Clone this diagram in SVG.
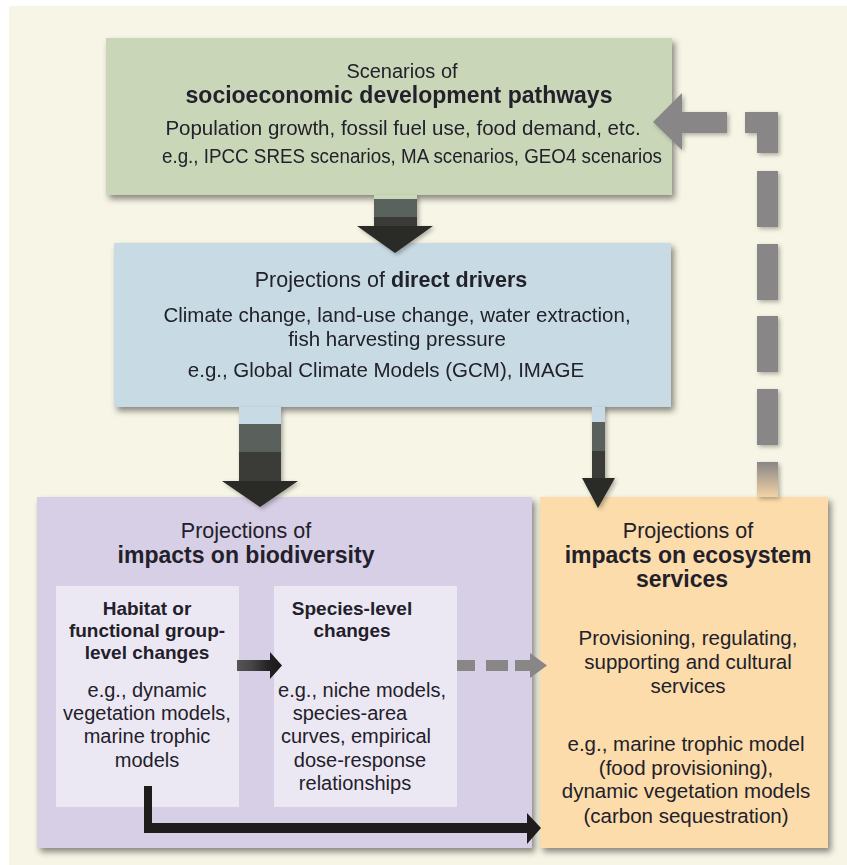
<svg xmlns="http://www.w3.org/2000/svg" width="847" height="865" viewBox="0 0 847 865">
<defs>
<style>
text{font-family:"Liberation Sans",Arial,sans-serif;fill:#22202a;text-anchor:middle}
.h{font-size:21.5px}
.b{font-weight:bold}
.tb{font-size:23px;font-weight:bold}
.t{font-size:20.5px}
.s{font-size:20px}
.box{filter:url(#sh)}
.dash{fill:#888686;filter:url(#sh2)}
</style>
<filter id="sh" x="-10%" y="-10%" width="120%" height="125%">
<feDropShadow dx="3" dy="4" stdDeviation="3" flood-color="#000" flood-opacity="0.45"/>
</filter>
<filter id="sh2" x="-30%" y="-30%" width="160%" height="160%">
<feDropShadow dx="2" dy="2" stdDeviation="2" flood-color="#000" flood-opacity="0.3"/>
</filter>
<linearGradient id="g1" x1="0" y1="195" x2="0" y2="253" gradientUnits="userSpaceOnUse">
<stop offset="0" stop-color="#c9d6b8"/><stop offset="0.07" stop-color="#c9d6b8"/>
<stop offset="0.07" stop-color="#5a625d"/><stop offset="0.38" stop-color="#5a625d"/>
<stop offset="0.38" stop-color="#3a3a38"/><stop offset="0.53" stop-color="#3a3a38"/>
<stop offset="0.53" stop-color="#2c2b28"/><stop offset="1" stop-color="#2c2b28"/>
</linearGradient>
<linearGradient id="g2" x1="0" y1="407" x2="0" y2="507" gradientUnits="userSpaceOnUse">
<stop offset="0" stop-color="#c8dbe4"/><stop offset="0.17" stop-color="#c8dbe4"/>
<stop offset="0.17" stop-color="#5a605c"/><stop offset="0.45" stop-color="#5a605c"/>
<stop offset="0.45" stop-color="#3a3a38"/><stop offset="0.74" stop-color="#3a3a38"/>
<stop offset="0.74" stop-color="#2a2926"/><stop offset="1" stop-color="#2a2926"/>
</linearGradient>
<linearGradient id="g3" x1="0" y1="407" x2="0" y2="508" gradientUnits="userSpaceOnUse">
<stop offset="0" stop-color="#c8dbe4"/><stop offset="0.15" stop-color="#c8dbe4"/>
<stop offset="0.15" stop-color="#5a605c"/><stop offset="0.44" stop-color="#5a605c"/>
<stop offset="0.44" stop-color="#3b3b39"/><stop offset="0.70" stop-color="#3b3b39"/>
<stop offset="0.70" stop-color="#2a2926"/><stop offset="1" stop-color="#2a2926"/>
</linearGradient>
<linearGradient id="g4" x1="237" y1="0" x2="282" y2="0" gradientUnits="userSpaceOnUse">
<stop offset="0" stop-color="#555"/><stop offset="0.35" stop-color="#444"/><stop offset="0.7" stop-color="#222"/><stop offset="1" stop-color="#1a1a1a"/>
</linearGradient>
<linearGradient id="g5" x1="0" y1="462" x2="0" y2="497" gradientUnits="userSpaceOnUse">
<stop offset="0" stop-color="#888686"/><stop offset="1" stop-color="#f2d3a6"/>
</linearGradient>
</defs>
<rect x="9" y="6" width="838" height="859" fill="#f7f5e5"/>

<g id="scenarios" class="box">
<rect x="106" y="38" width="566" height="157" fill="#c9d6b8"/>
<text class="h" x="402" y="78" style="font-size:20px">Scenarios of</text>
<text class="tb" x="399" y="103">socioeconomic development pathways</text>
<text class="t" x="403" y="135">Population growth, fossil fuel use, food demand, etc.</text>
<text class="t" x="412" y="163" textLength="500" lengthAdjust="spacingAndGlyphs">e.g., IPCC SRES scenarios, MA scenarios, GEO4 scenarios</text>
</g>

<g id="drivers" class="box">
<rect x="114" y="243" width="557" height="164" fill="#c8dbe4"/>
<text class="h" x="391" y="287">Projections of <tspan class="b">direct drivers</tspan></text>
<text class="t" x="397" y="322">Climate change, land-use change, water extraction,</text>
<text class="t" x="397" y="346">fish harvesting pressure</text>
<text class="t" x="386" y="377">e.g., Global Climate Models (GCM), IMAGE</text>
</g>

<g id="biodiversity">
<rect class="box" x="37" y="497" width="495" height="351" fill="#d6cfe5"/>
<text class="h" x="246" y="538">Projections of</text>
<text class="tb" x="246" y="563">impacts on biodiversity</text>
</g>

<g id="habitat">
<rect x="56" y="586" width="183" height="221" fill="#ece8f3"/>
<text class="s b" x="147" y="615" style="font-size:19px">Habitat or</text>
<text class="s b" x="147" y="637" style="font-size:19px">functional group-</text>
<text class="s b" x="147" y="659" style="font-size:19px">level changes</text>
<text class="s" x="147" y="697">e.g., dynamic</text>
<text class="s" x="147" y="720">vegetation models,</text>
<text class="s" x="147" y="743">marine trophic</text>
<text class="s" x="147" y="767">models</text>
</g>

<g id="species">
<rect x="274" y="586" width="183" height="221" fill="#ece8f3"/>
<text class="s b" x="352" y="615" style="font-size:19px">Species-level</text>
<text class="s b" x="352" y="637" style="font-size:19px">changes</text>
<text class="s" x="362" y="697">e.g., niche models,</text>
<text class="s" x="350" y="720">species-area</text>
<text class="s" x="356" y="743">curves, empirical</text>
<text class="s" x="360" y="767">dose-response</text>
<text class="s" x="355" y="790">relationships</text>
</g>

<g id="ecosystem">
<rect class="box" x="540" y="497" width="288" height="351" fill="#fbdcaa"/>
<text class="h" x="688" y="538">Projections of</text>
<text class="tb" x="688" y="563">impacts on ecosystem</text>
<text class="tb" x="682" y="587">services</text>
<text class="t" x="688" y="645">Provisioning, regulating,</text>
<text class="t" x="688" y="669">supporting and cultural</text>
<text class="t" x="688" y="693">services</text>
<text class="t" x="686" y="751">e.g., marine trophic model</text>
<text class="t" x="686" y="775">(food provisioning),</text>
<text class="t" x="686" y="798">dynamic vegetation models</text>
<text class="t" x="686" y="823">(carbon sequestration)</text>
</g>

<g id="connectors">
<polygon points="374,195 417,195 417,226 433,226 395,253 357,226 374,226" fill="url(#g1)" filter="url(#sh2)"/>
<polygon points="239,407 281,407 281,481 298,481 260,507 222,481 239,481" fill="url(#g2)" filter="url(#sh2)"/>
<polygon points="592,407 605,407 605,478 615,478 598,508 582,478 592,478" fill="url(#g3)" filter="url(#sh2)"/>
<polygon points="237,660 270,660 270,652 282,665.5 270,679 270,671 237,671" fill="url(#g4)"/>
<g fill="#888686">
<rect x="457" y="660" width="18" height="11"/>
<rect x="486" y="660" width="22" height="11"/>
<polygon points="515,660 530,660 530,653 547,665.5 530,678 530,671 515,671"/>
</g>
<path d="M144,786 H152 V823 H527 V813 L541,828 L527,844 V833 H144 Z" fill="#1e1d1b"/>
<g class="dash">
<polygon points="653,122 682,93 682,112 727,112 727,133 682,133 682,150"/>
<path d="M745,112 H778 V153 H757 V133 H745 Z"/>
<rect x="757" y="171" width="21" height="56"/>
<rect x="757" y="244" width="21" height="56"/>
<rect x="757" y="316" width="21" height="56"/>
<rect x="757" y="389" width="21" height="56"/>
<rect x="757" y="462" width="21" height="35" fill="url(#g5)"/>
</g>
</g>
</svg>
